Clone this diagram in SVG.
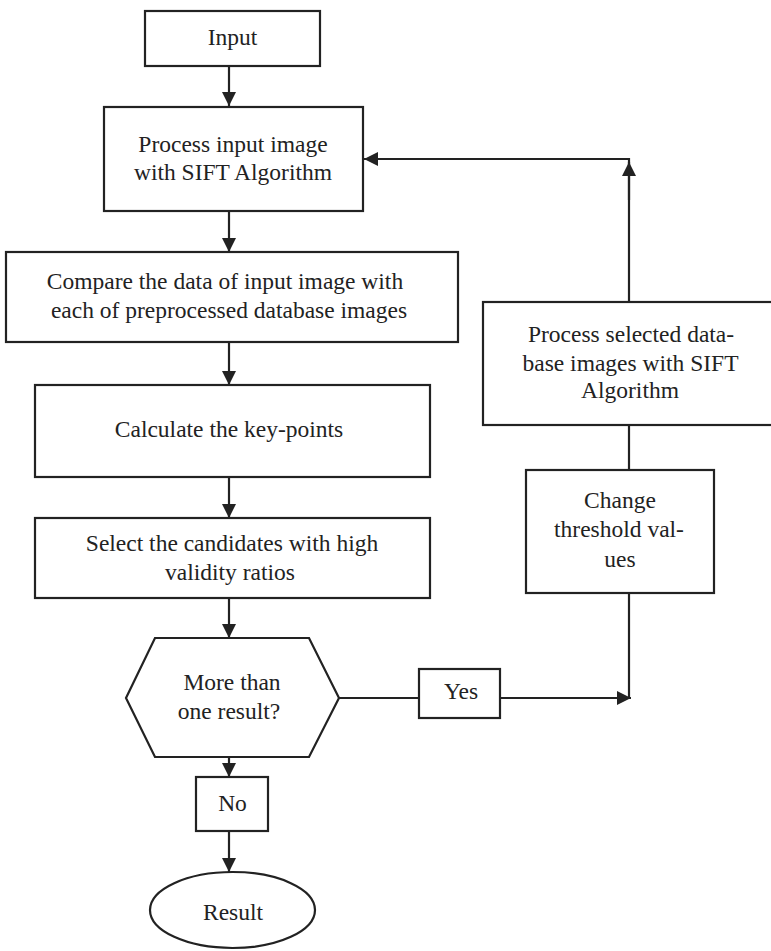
<svg xmlns="http://www.w3.org/2000/svg" width="771" height="951" viewBox="0 0 771 951">
  <defs>
    <marker id="arrow" viewBox="0 0 14 14" refX="14" refY="7" markerWidth="14" markerHeight="14" markerUnits="userSpaceOnUse" orient="auto">
      <path d="M0,0 L14,7 L0,14 z" fill="#222"/>
    </marker>
  </defs>
  <style>
    .box { fill: #fff; stroke: #222; stroke-width: 2.2; }
    .conn { fill: none; stroke: #222; stroke-width: 2.2; }
    text { font-family: "Liberation Serif", "Times New Roman", serif; font-size: 23.5px; fill: #222; text-anchor: middle; }
  </style>
  <rect width="771" height="951" fill="#fff"/>

  <g id="connectors">
    <path class="conn" d="M229,66 V106" marker-end="url(#arrow)"/>
    <path class="conn" d="M229,211 V252" marker-end="url(#arrow)"/>
    <path class="conn" d="M229,342 V385" marker-end="url(#arrow)"/>
    <path class="conn" d="M229,477 V518" marker-end="url(#arrow)"/>
    <path class="conn" d="M229,598 V638" marker-end="url(#arrow)"/>
    <path class="conn" d="M229,757 V777" marker-end="url(#arrow)"/>
    <path class="conn" d="M229,831 V872" marker-end="url(#arrow)"/>
    <path class="conn" d="M339,698 H419"/>
    <path class="conn" d="M500,698 H631" marker-end="url(#arrow)"/>
    <path class="conn" d="M629,593 V698"/>
    <path class="conn" d="M629,425 V470"/>
    <path class="conn" d="M629,302 V159 H364" marker-end="url(#arrow)"/>
    <path class="conn" d="M629,200 V162" marker-end="url(#arrow)"/>
  </g>

  <g id="input">
    <rect class="box" x="145" y="11" width="175" height="55"/>
    <text x="232.5" y="45">Input</text>
  </g>

  <g id="process-input">
    <rect class="box" x="104" y="107" width="259" height="104"/>
    <text x="233" y="152">Process input image</text>
    <text x="233" y="180">with SIFT Algorithm</text>
  </g>

  <g id="compare">
    <rect class="box" x="6" y="252" width="452" height="90"/>
    <text x="225" y="289">Compare the data of input image with</text>
    <text x="229" y="318">each of preprocessed database images</text>
  </g>

  <g id="calculate">
    <rect class="box" x="35" y="385" width="395" height="92"/>
    <text x="229" y="437">Calculate the key-points</text>
  </g>

  <g id="select">
    <rect class="box" x="35" y="518" width="395" height="80"/>
    <text x="232" y="551">Select the candidates with high</text>
    <text x="230" y="580">validity ratios</text>
  </g>

  <g id="decision">
    <polygon class="box" points="126,698 155,638 309,638 339,698 309,757 155,757"/>
    <text x="232" y="690">More than</text>
    <text x="229" y="719">one result?</text>
  </g>

  <g id="yes">
    <rect class="box" x="419" y="669" width="81" height="49"/>
    <text x="461" y="699">Yes</text>
  </g>

  <g id="no">
    <rect class="box" x="196" y="777" width="72" height="54"/>
    <text x="232.5" y="811">No</text>
  </g>

  <g id="result">
    <ellipse class="box" cx="232.5" cy="910" rx="82.5" ry="38"/>
    <text x="233" y="920">Result</text>
  </g>

  <g id="change-threshold">
    <rect class="box" x="526" y="470" width="188" height="123"/>
    <text x="620" y="508">Change</text>
    <text x="619" y="537">threshold val-</text>
    <text x="620" y="567">ues</text>
  </g>

  <g id="process-selected">
    <rect class="box" x="483" y="302" width="300" height="123"/>
    <text x="631" y="342">Process selected data-</text>
    <text x="630.5" y="371">base images with SIFT</text>
    <text x="630" y="398">Algorithm</text>
  </g>
</svg>
